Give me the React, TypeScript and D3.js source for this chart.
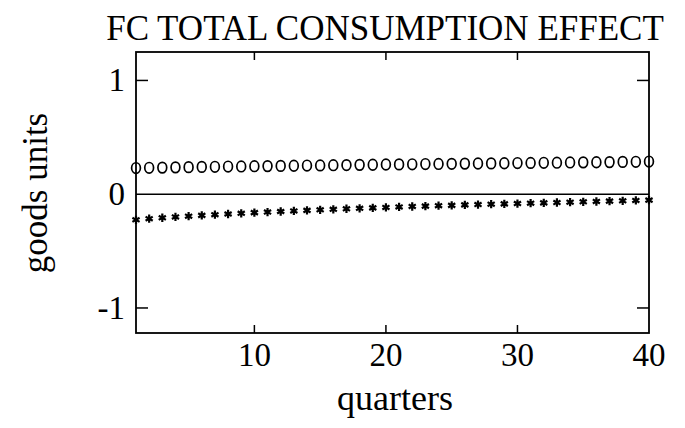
import * as d3 from 'd3'

// quarters 1..40
const quarters = d3.range(1, 41)

// "o" series (upper)
const circleSeries = [
  0.230, 0.232, 0.234, 0.236, 0.238, 0.240, 0.241, 0.243, 0.244, 0.246,
  0.247, 0.249, 0.250, 0.252, 0.253, 0.255, 0.256, 0.258, 0.259, 0.261,
  0.262, 0.263, 0.265, 0.266, 0.267, 0.269, 0.270, 0.271, 0.272, 0.274,
  0.275, 0.276, 0.277, 0.279, 0.280, 0.281, 0.282, 0.284, 0.285, 0.287,
]

// "*" series (lower)
const starSeries = [
  -0.225, -0.215, -0.207, -0.200, -0.193, -0.186, -0.180, -0.174, -0.168, -0.162,
  -0.157, -0.152, -0.147, -0.142, -0.137, -0.133, -0.128, -0.124, -0.120, -0.116,
  -0.112, -0.108, -0.105, -0.101, -0.098, -0.094, -0.091, -0.088, -0.085, -0.082,
  -0.079, -0.076, -0.073, -0.070, -0.067, -0.064, -0.061, -0.058, -0.055, -0.052,
]

const xTicks = [10, 20, 30, 40]
const yTicks = [1, 0, -1]

const W = 685
const H = 428
const font = '"Liberation Serif", "DejaVu Serif", serif'

export default function App() {
  const x = d3.scaleLinear().domain([1, 40]).range([136, 649])
  const y = d3.scaleLinear().domain([-1.22, 1.25]).range([333, 52])
  const [x0, x1] = x.range()
  const [yb, yt] = y.range()
  const star = d3.symbol(d3.symbolAsterisk, 48)()

  return (
    <svg width={W} height={H} style={{ position: 'absolute', left: 0, top: 0, background: '#fff' }}>
      <text x={385} y={40} textAnchor="middle" fontFamily={font} fontSize={35}>
        FC TOTAL CONSUMPTION EFFECT
      </text>

      {/* frame */}
      <rect x={x0} y={yt} width={x1 - x0} height={yb - yt} fill="none" stroke="#000" strokeWidth={1.8} />

      {/* zero line */}
      <line x1={x0} x2={x1} y1={y(0)} y2={y(0)} stroke="#000" strokeWidth={1.6} />

      {/* x ticks, inward top and bottom */}
      {xTicks.filter(t => t < 40).map(t => (
        <g key={'xt' + t}>
          <line x1={x(t)} x2={x(t)} y1={yb} y2={yb - 8} stroke="#000" strokeWidth={1.5} />
          <line x1={x(t)} x2={x(t)} y1={yt} y2={yt + 8} stroke="#000" strokeWidth={1.5} />
        </g>
      ))}
      {xTicks.map(t => (
        <text key={'xl' + t} x={x(t)} y={366} textAnchor="middle" fontFamily={font} fontSize={33}>
          {t}
        </text>
      ))}

      {/* y ticks, inward left and right */}
      {yTicks.filter(t => t !== 0).map(t => (
        <g key={'yt' + t}>
          <line x1={x0} x2={x0 + 12} y1={y(t)} y2={y(t)} stroke="#000" strokeWidth={1.5} />
          <line x1={x1} x2={x1 - 12} y1={y(t)} y2={y(t)} stroke="#000" strokeWidth={1.5} />
        </g>
      ))}
      {yTicks.map(t => (
        <text key={'yl' + t} x={125} y={y(t) + 11} textAnchor="end" fontFamily={font} fontSize={33}>
          {t}
        </text>
      ))}

      {/* series */}
      {quarters.map((q, i) => (
        <ellipse key={'c' + q} cx={x(q)} cy={y(circleSeries[i])} rx={4.4} ry={5.3} fill="none" stroke="#000" strokeWidth={1.7} />
      ))}
      {quarters.map((q, i) => (
        <path key={'s' + q} d={star} transform={`translate(${x(q)},${y(starSeries[i])})`} fill="none" stroke="#000" strokeWidth={2.2} />
      ))}

      <text x={395} y={410} textAnchor="middle" fontFamily={font} fontSize={36}>
        quarters
      </text>
      <text transform="translate(47,193) rotate(-90)" textAnchor="middle" fontFamily={font} fontSize={35}>
        goods units
      </text>
    </svg>
  )
}
